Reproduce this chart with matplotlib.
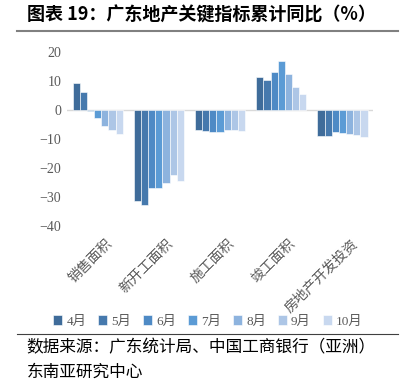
import numpy as np
import matplotlib
matplotlib.use('Agg')
import matplotlib.pyplot as plt
import matplotlib.transforms as mtrans

plt.rcParams['font.family'] = ['Liberation Serif', 'Noto Sans CJK SC']

# ── data ─────────────────────────────────────────────────────────────────────
categories = ['销售面积', '新开工面积', '施工面积', '竣工面积', '房地产开发投资']
months     = ['4月', '5月', '6月', '7月', '8月', '9月', '10月']

v_apr = [9.3, -31.3, -6.8, 11.4, -9.1]
v_may = [6.2, -32.8, -7.1, 10.5, -9.0]
v_jun = [-0.3, -26.7, -7.4, 13.0, -7.4]
v_jul = [-2.9, -26.9, -7.4, 16.8, -7.9]
v_aug = [-5.6, -25.2, -7.0, 12.5, -8.3]
v_sep = [-7.0, -22.4, -6.7, 8.0, -8.6]
v_oct = [-8.3, -24.3, -7.1, 5.7, -9.2]
series = [v_apr, v_may, v_jun, v_jul, v_aug, v_sep, v_oct]

colours = ['#3F6C9A', '#4679AD', '#4E8AC5', '#5B9BD5',
           '#8DB3DE', '#ADC6E6', '#C8D8EF']

grey = '#595959'

# ── figure ───────────────────────────────────────────────────────────────────
fig = plt.figure(figsize=(4.06, 3.80), dpi=100, facecolor='white')
ax = fig.add_axes([0.165, 0.405, 0.754, 0.458])

x = np.arange(len(categories))
n = len(series)
bw = 0.82 / n
for i, (vals, col) in enumerate(zip(series, colours)):
    ax.bar(x + (i - (n - 1) / 2) * bw, vals, width=bw, color=col,
           edgecolor='white', linewidth=0.4, label=months[i], zorder=2)

ax.axhline(0, color='#D9D9D9', lw=1.0, zorder=1)
ax.set_xlim(-0.5, 4.5)
ax.set_ylim(-40, 20)
ax.set_yticks(range(-40, 21, 10))
ax.set_yticklabels([str(v) if v >= 0 else '\u2212' + str(-v)
                    for v in range(-40, 21, 10)])
for s in ax.spines.values():
    s.set_visible(False)
ax.tick_params(axis='both', length=0, colors=grey, labelsize=10)
ax.tick_params(axis='y', pad=4)

ax.set_xticks(x)
ax.set_xticklabels(categories, rotation=45, ha='right',
                   rotation_mode='anchor', fontsize=10, color=grey)
for lbl in ax.get_xticklabels():
    lbl.set_transform(lbl.get_transform() +
                      mtrans.ScaledTranslation(0.08, -0.06, fig.dpi_scale_trans))

ax.legend(loc='upper center', bbox_to_anchor=(0.46, -0.445), ncol=7,
          frameon=False, fontsize=9.5, labelcolor=grey, handlelength=0.7,
          handleheight=0.7, handletextpad=0.3, columnspacing=0.9)

# ── title, rules and source ─────────────────────────────────────────────────
fig.text(0.066, 0.96, '图表 19：广东地产关键指标累计同比（%）',
         family=['Noto Sans CJK SC'], fontsize=13, fontweight='bold',
         va='center', ha='left', color='black')
fig.add_artist(plt.Line2D([0.042, 0.98], [0.918, 0.918],
                          color='#808080', lw=1.5))
fig.add_artist(plt.Line2D([0.042, 0.98], [0.121, 0.121],
                          color='#404040', lw=0.8))
fig.text(0.066, 0.084, '数据来源：广东统计局、中国工商银行（亚洲）',
         family=['Noto Sans CJK SC'], fontsize=12, style='italic',
         va='center', ha='left', color='black')
fig.text(0.066, 0.02, '东南亚研究中心',
         family=['Noto Sans CJK SC'], fontsize=12, style='italic',
         va='center', ha='left', color='black')

fig.savefig('out.png', dpi=100, facecolor='white')
